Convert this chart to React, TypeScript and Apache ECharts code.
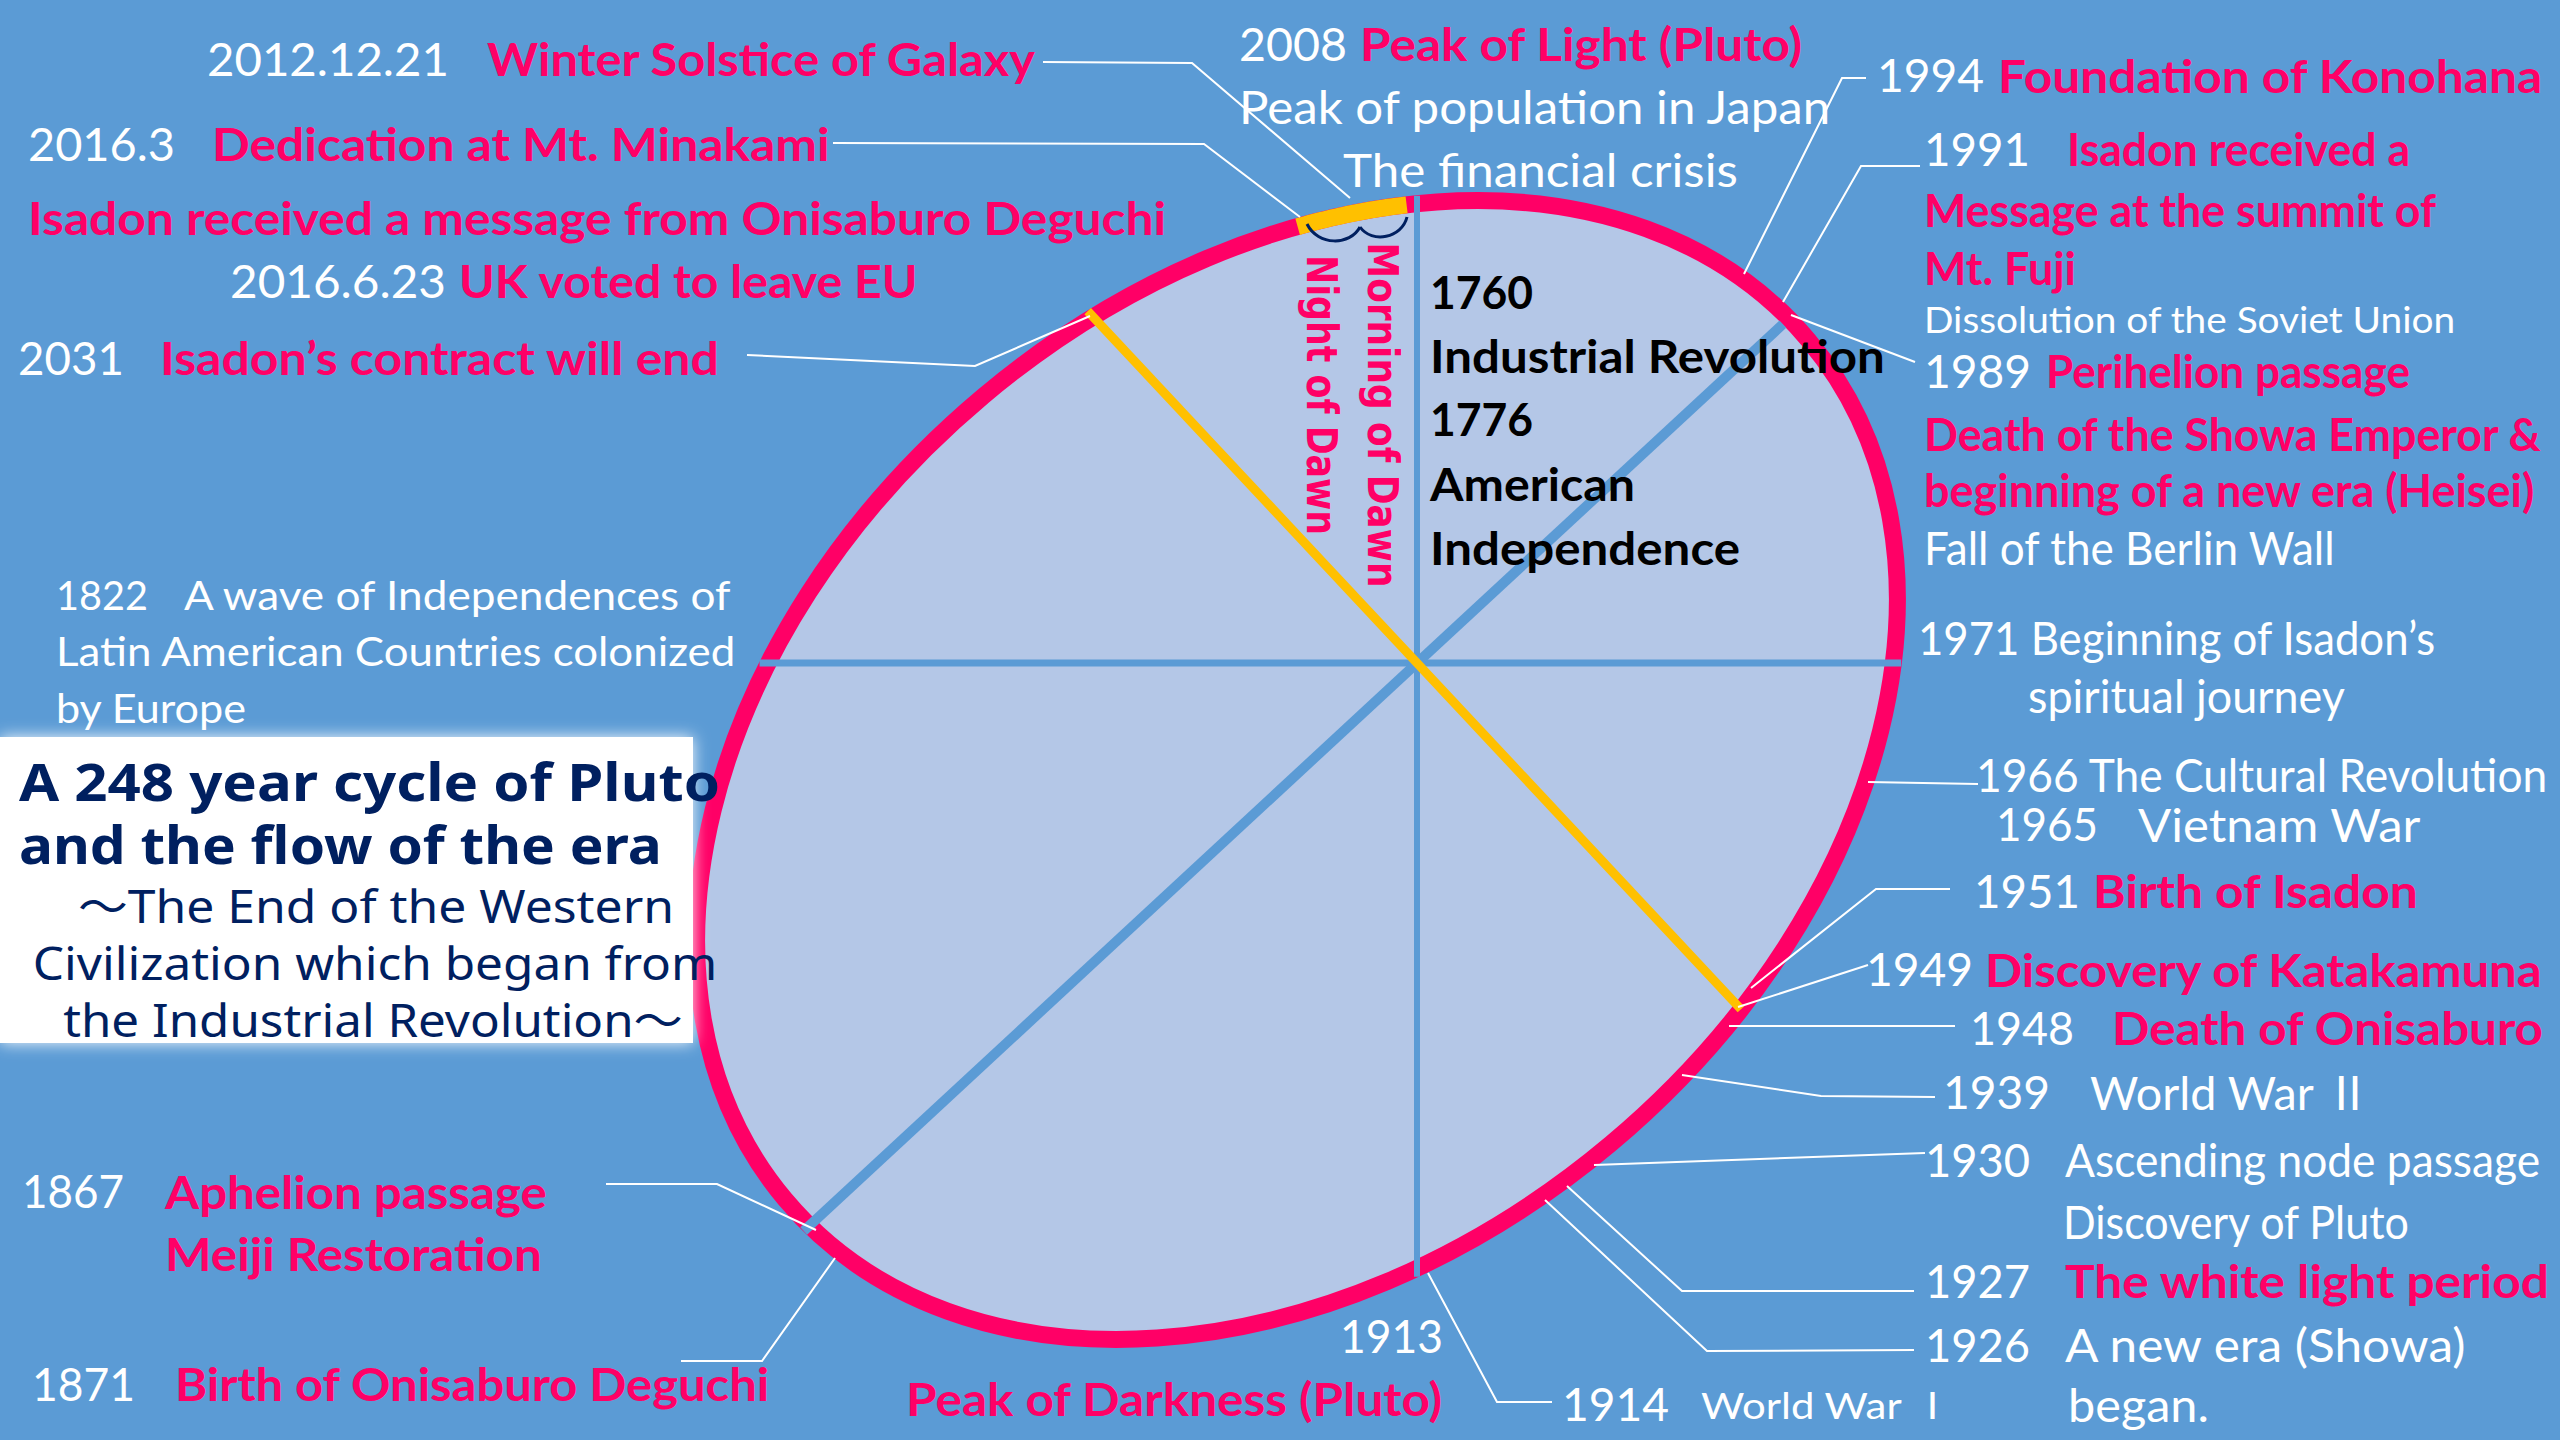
import React, { useEffect, useRef } from "react";
import * as echarts from "echarts";

type Tone = "w" | "p" | "k" | "ws" | "wm" | "t" | "s" | "d";
type Seg = [string, Tone];

// ---------------- DATA (texts of the diagram) ----------------
const TOP_LEFT: Seg[] = [
  ["2012.12.21", "w"], ["Winter Solstice of Galaxy", "p"],
  ["2016.3", "w"], ["Dedication at Mt. Minakami", "p"],
  ["Isadon received a message from Onisaburo Deguchi", "p"],
  ["2016.6.23", "w"], ["UK voted to leave EU", "p"],
  ["2031", "w"], ["Isadon’s contract will end", "p"],
];
const TOP_CENTER: Seg[] = [
  ["2008", "w"], ["Peak of Light (Pluto)", "p"],
  ["Peak of population in Japan", "w"],
  ["The financial crisis", "w"],
];
const INSIDE: Seg[] = [
  ["1760", "k"], ["Industrial Revolution", "k"], ["1776", "k"], ["American", "k"], ["Independence", "k"],
];
const DAWN: Seg[] = [["Morning of Dawn", "d"], ["Night of Dawn", "d"]];
const UPPER_RIGHT: Seg[] = [
  ["1994", "w"], ["Foundation of Konohana", "p"],
  ["1991", "w"], ["Isadon received a", "p"],
  ["Message at the summit of", "p"],
  ["Mt. Fuji", "p"],
  ["Dissolution of the Soviet Union", "ws"],
  ["1989", "w"], ["Perihelion passage", "p"],
  ["Death of the Showa Emperor &", "p"],
  ["beginning of a new era (Heisei)", "p"],
  ["Fall of the Berlin Wall", "w"],
];
const LOWER_RIGHT: Seg[] = [
  ["1971 Beginning of Isadon’s", "w"],
  ["spiritual journey", "w"],
  ["1966 The Cultural Revolution", "w"],
  ["1965", "w"], ["Vietnam War", "w"],
  ["1951", "w"], ["Birth of Isadon", "p"],
  ["1949", "w"], ["Discovery of Katakamuna", "p"],
  ["1948", "w"], ["Death of Onisaburo", "p"],
  ["1939", "w"], ["World War Ⅱ", "w"],
  ["1930", "w"], ["Ascending node passage", "w"],
  ["Discovery of Pluto", "w"],
  ["1927", "w"], ["The white light period", "p"],
  ["1926", "w"], ["A new era (Showa)", "w"],
  ["began.", "w"],
];
const BOTTOM: Seg[] = [
  ["1913", "w"], ["Peak of Darkness (Pluto)", "p"], ["1914", "w"], ["World War Ⅰ", "ws"],
];
const LEFT: Seg[] = [
  ["1822", "wm"], ["A wave of Independences of", "wm"],
  ["Latin American Countries colonized", "wm"],
  ["by Europe", "wm"],
];
const LOWER_LEFT: Seg[] = [
  ["1867", "w"], ["Aphelion passage", "p"],
  ["Meiji Restoration", "p"],
  ["1871", "w"], ["Birth of Onisaburo Deguchi", "p"],
];
const TITLE: Seg[] = [
  ["A 248 year cycle of Pluto", "t"],
  ["and the flow of the era", "t"],
];
const SUBTITLE: Seg[] = [
  ["～The End of the Western", "s"],
  ["Civilization which began from", "s"],
  ["the Industrial Revolution～", "s"],
];

// ---------------- LAYOUT: [x, y, right edge] (or [cx, cy, width] for centred texts) ----------------
const TOP_LEFT_POS = [[207, 58, 449], [487, 58, 1037], [28, 143, 175], [212, 143, 830], [28, 217, 1167], [230, 280, 446], [459, 280, 919], [18, 357, 124], [160, 357, 720]];
const TOP_CENTER_POS = [[1239, 43, 1347], [1360, 43, 1803], [1239, 106, 1833], [1343, 169, 1738]];
const INSIDE_POS = [[1430, 292, 1533], [1430, 355, 1885], [1430, 419, 1533], [1430, 484, 1635], [1430, 547, 1740]];
const DAWN_POS = [[1383, 415, 345], [1322, 395, 280]];
const UPPER_RIGHT_POS = [[1877, 75, 1984], [1998, 75, 2543], [1924, 148, 2030], [2067, 148, 2410], [1924, 209, 2436], [1924, 267, 2076], [1924, 319, 2456], [1924, 371, 2031], [2046, 371, 2410], [1924, 433, 2543], [1924, 489, 2536], [1924, 548, 2336]];
const LOWER_RIGHT_POS = [[1918, 638, 2436], [2028, 695, 2345], [1976, 774, 2549], [1996, 824, 2098], [2138, 824, 2421], [1974, 890, 2080], [2093, 890, 2419], [1866, 969, 1973], [1985, 969, 2544], [1970, 1027, 2074], [2112, 1027, 2544], [1943, 1092, 2050], [2090, 1092, 2373], [1925, 1159, 2030], [2065, 1159, 2540], [2063, 1221, 2411], [1925, 1280, 2030], [2065, 1280, 2550], [1925, 1344, 2030], [2065, 1344, 2468], [2068, 1404, 2209]];
const BOTTOM_POS = [[1340, 1335, 1443], [906, 1398, 1443], [1562, 1404, 1669], [1701, 1404, 1955]];
const LEFT_POS = [[56, 594, 148], [184, 594, 734], [56, 651, 737], [56, 708, 247]];
const LOWER_LEFT_POS = [[22, 1191, 124], [165, 1191, 547], [165, 1253, 542], [32, 1383, 135], [175, 1383, 770]];
const TITLE_POS = [[19, 781, 720], [19, 844, 662]];
const SUBTITLE_POS = [[376, 905, 596], [375, 962, 685], [373, 1019, 620]];

const LEADERS: number[][][] = [
  [[1043, 62], [1192, 63], [1350, 198]],
  [[833, 143], [1204, 144], [1300, 217]],
  [[747, 355], [975, 366], [1090, 316]],
  [[606, 1184], [717, 1184], [816, 1230]],
  [[681, 1361], [762, 1361], [835, 1258]],
  [[1552, 1402], [1497, 1402], [1428, 1273]],
  [[1866, 78], [1842, 78], [1744, 274]],
  [[1920, 166], [1861, 166], [1783, 302]],
  [[1791, 315], [1915, 362]],
  [[1868, 782], [1978, 784]],
  [[1950, 889], [1876, 889], [1751, 988]],
  [[1868, 965], [1738, 1007]],
  [[1955, 1026], [1729, 1026]],
  [[1935, 1097], [1821, 1096], [1682, 1075]],
  [[1925, 1153], [1594, 1165]],
  [[1914, 1291], [1682, 1291], [1567, 1186]],
  [[1914, 1350], [1707, 1351], [1545, 1200]],
];

// orbit ellipse and hub
const ORBIT = { cx: 1297, cy: 770, a: 668, b: 488, rotDeg: 40, ring: 17 };
const HUB = [1417, 663];
// spokes: [angle 1 from hub (deg), angle 2, grow at 1, grow at 2, colour, width]
const SPOKES: [number, number, number, number, string, number][] = [
  [90, 270, 8, 8, "#5B9BD5", 6],
  [0, 180, 8, 8, "#5B9BD5", 7],
  [42.8, 222.8, -8, 8, "#5B9BD5", 10],
  [133.1, 313.1, 8, 0, "#FFC000", 9],
];
const DAWN_ARC = [91.3, 105.3];

const LATO = 'Lato, "Noto Sans CJK JP", sans-serif';
const NOTO = '"Noto Sans", "Noto Sans CJK JP", sans-serif';
const DEJAVU = '"DejaVu Sans", sans-serif';
const TONES: Record<Tone, { fill: string; size: number; weight: number; family: string }> = {
  w: { fill: "#FFFFFF", size: 46, weight: 400, family: LATO },
  p: { fill: "#FF0066", size: 46, weight: 700, family: LATO },
  k: { fill: "#000000", size: 45, weight: 700, family: LATO },
  ws: { fill: "#FFFFFF", size: 37, weight: 400, family: LATO },
  wm: { fill: "#FFFFFF", size: 40, weight: 400, family: LATO },
  t: { fill: "#002060", size: 52, weight: 700, family: NOTO },
  s: { fill: "#002060", size: 46, weight: 400, family: NOTO },
  d: { fill: "#FF0066", size: 42, weight: 700, family: DEJAVU },
};

function rayHit(deg: number, grow: number): number[] {
  const phi = (deg * Math.PI) / 180;
  const dx = Math.cos(phi), dy = -Math.sin(phi);
  const r = (ORBIT.rotDeg * Math.PI) / 180;
  const c = Math.cos(r), s = Math.sin(r);
  const px = HUB[0] - ORBIT.cx, py = HUB[1] - ORBIT.cy;
  const pu = px * c - py * s, pv = px * s + py * c;
  const du = dx * c - dy * s, dv = dx * s + dy * c;
  const A = ORBIT.a + grow, B = ORBIT.b + grow;
  const qa = (du * du) / (A * A) + (dv * dv) / (B * B);
  const qb = 2 * ((pu * du) / (A * A) + (pv * dv) / (B * B));
  const qc = (pu * pu) / (A * A) + (pv * pv) / (B * B) - 1;
  const t = (-qb + Math.sqrt(qb * qb - 4 * qa * qc)) / (2 * qa);
  return [HUB[0] + dx * t, HUB[1] + dy * t];
}

export default function App() {
  const ref = useRef<HTMLDivElement>(null);
  useEffect(() => {
    if (!ref.current) return;
    const chart = echarts.init(ref.current, undefined, { renderer: "svg" });
    const ctx = document.createElement("canvas").getContext("2d")!;
    const measure = (seg: Seg) => {
      const t = TONES[seg[1]];
      ctx.font = `${t.weight} ${t.size}px ${t.family}`;
      return ctx.measureText(seg[0]).width || 1;
    };

    const els: any[] = [];
    // mode "left": pos = [x, y, right]; "center": pos = [cx, cy, width]
    const txt = (seg: Seg, pos: number[], mode: "left" | "center" = "left", rot = 0) => {
      const t = TONES[seg[1]];
      const target = mode === "left" ? pos[2] - pos[0] : pos[2];
      els.push({
        type: "text",
        x: pos[0],
        y: pos[1],
        scaleX: target / measure(seg),
        rotation: rot,
        z: 10,
        style: {
          text: seg[0],
          fill: t.fill,
          fontSize: t.size,
          fontWeight: t.weight,
          fontFamily: t.family,
          align: mode,
          verticalAlign: "middle",
          textAlign: mode,
          textVerticalAlign: "middle",
        },
      });
    };

    // orbit
    els.push({
      type: "ellipse",
      x: ORBIT.cx,
      y: ORBIT.cy,
      rotation: (ORBIT.rotDeg * Math.PI) / 180,
      z: 1,
      shape: { cx: 0, cy: 0, rx: ORBIT.a, ry: ORBIT.b },
      style: { fill: "#B4C7E7", stroke: "#FF0066", lineWidth: ORBIT.ring },
    });
    SPOKES.forEach(([d1, d2, g1, g2, col, w]) => {
      const p1 = rayHit(d1, g1), p2 = rayHit(d2, g2);
      els.push({ type: "line", z: 2, shape: { x1: p1[0], y1: p1[1], x2: p2[0], y2: p2[1] }, style: { stroke: col, lineWidth: w } });
    });
    const arcPts: number[][] = [];
    for (let i = 0; i <= 28; i++) arcPts.push(rayHit(DAWN_ARC[0] + ((DAWN_ARC[1] - DAWN_ARC[0]) * i) / 28, 0));
    els.push({ type: "polyline", z: 3, shape: { points: arcPts }, style: { stroke: "#FFC000", lineWidth: ORBIT.ring, fill: null } });
    // brace
    els.push({ type: "bezierCurve", z: 4, shape: { x1: 1307, y1: 224, cpx1: 1318, cpy1: 246, cpx2: 1350, cpy2: 246, x2: 1360, y2: 227 }, style: { stroke: "#002060", lineWidth: 3, fill: null } });
    els.push({ type: "bezierCurve", z: 4, shape: { x1: 1360, y1: 227, cpx1: 1372, cpy1: 244, cpx2: 1402, cpy2: 238, x2: 1407, y2: 217 }, style: { stroke: "#002060", lineWidth: 3, fill: null } });
    // leaders
    LEADERS.forEach((pts) => {
      els.push({ type: "polyline", z: 5, shape: { points: pts }, style: { stroke: "#FFFFFF", lineWidth: 2, fill: null } });
    });
    // white title box
    els.push({
      type: "rect",
      z: 6,
      shape: { x: 0, y: 737, width: 693, height: 306 },
      style: { fill: "#FFFFFF", shadowBlur: 16, shadowColor: "rgba(255,255,255,0.95)" },
    });

    TOP_LEFT.forEach((s, i) => txt(s, TOP_LEFT_POS[i]));
    TOP_CENTER.forEach((s, i) => txt(s, TOP_CENTER_POS[i]));
    INSIDE.forEach((s, i) => txt(s, INSIDE_POS[i]));
    DAWN.forEach((s, i) => txt(s, DAWN_POS[i], "center", -Math.PI / 2));
    UPPER_RIGHT.forEach((s, i) => txt(s, UPPER_RIGHT_POS[i]));
    LOWER_RIGHT.forEach((s, i) => txt(s, LOWER_RIGHT_POS[i]));
    BOTTOM.forEach((s, i) => txt(s, BOTTOM_POS[i]));
    LEFT.forEach((s, i) => txt(s, LEFT_POS[i]));
    LOWER_LEFT.forEach((s, i) => txt(s, LOWER_LEFT_POS[i]));
    TITLE.forEach((s, i) => txt(s, TITLE_POS[i]));
    SUBTITLE.forEach((s, i) => txt(s, SUBTITLE_POS[i], "center"));

    chart.setOption({ animation: false, backgroundColor: "#5B9BD5", graphic: { elements: els } });
    return () => chart.dispose();
  }, []);
  return <div ref={ref} style={{ position: "fixed", left: 0, top: 0, width: 2560, height: 1440 }} />;
}
